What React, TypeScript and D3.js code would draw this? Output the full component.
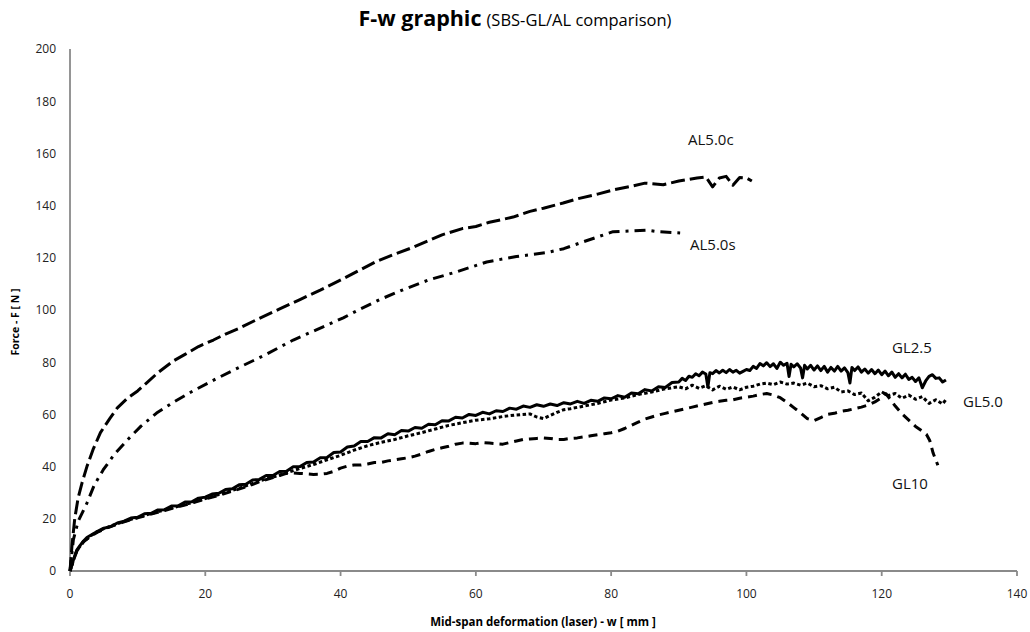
import React from "react";
import * as d3 from "d3";

// ---- data (w [mm], F [N]) ----
const AL50c: [number, number][] = [
  [0, 0], [0.3, 10], [0.7, 20], [1.2, 28], [1.8, 34], [2.5, 40], [3.4, 46.5], [4.5, 53], [5.9, 58.5],
  [7, 62.5], [8.4, 66], [10, 69], [11.3, 72], [13, 76], [15.3, 80.5], [17, 83], [19, 86], [21.2, 88.5],
  [23, 90.8], [25, 93], [28, 96.8], [31, 100.4], [34, 104], [37, 107.6], [40.4, 112], [43, 115.5],
  [45.3, 118.6], [48, 121.4], [50.7, 124], [53, 126.6], [55, 128.8], [58, 131.2], [60, 132], [62, 133.6],
  [65.5, 135.6], [68, 137.8], [70, 139], [72.9, 141], [75, 142.6], [78, 144.4], [80.3, 146], [83, 147.4],
  [85, 148.6], [87.7, 148], [90, 149.4], [92.7, 150.6], [94, 151], [95, 147.2], [96, 150.6], [97, 151.2],
  [98, 147.8], [99, 150.8], [100, 150.6], [100.8, 149.4],
];

const AL50s: [number, number][] = [
  [0, 0], [0.5, 12], [1.2, 19], [2.5, 26], [3.6, 33], [4.9, 38.7], [6.5, 44.5], [8.4, 50], [10.5, 55.5],
  [12.8, 60.5], [15.5, 65], [18.2, 69], [21.5, 73.5], [25, 78], [29, 83], [33, 88.5], [36.5, 92.5],
  [40.4, 97], [43, 100.5], [45.8, 104], [49, 107.5], [53, 111.5], [57, 114.5], [61.6, 118.4], [66, 120.5],
  [70.5, 122], [73, 123.5], [75.4, 125.7], [78, 128], [80.3, 130], [82, 130.2], [85.3, 130.6], [87, 130],
  [90.2, 129.5],
];

const GL25: [number, number][] = [
  [0, 0], [0.5, 4.2], [1, 8], [1.5, 9.8], [2, 11.5], [2.5, 12.8], [3, 13.6], [4, 15.1], [5, 16.4], [6, 17.0],
  [7, 18.4], [8, 19.1], [9, 20.3], [10, 20.6], [11, 21.9], [12, 22.1], [13, 23.4], [14, 23.5], [15, 24.9],
  [16, 25.0], [17, 26.4], [18, 26.5], [19, 27.9], [20, 28.3], [21, 29.5], [22, 29.8], [23, 31.2], [24, 31.5],
  [25, 33.0], [26, 33.2], [27, 34.9], [28, 35.1], [29, 36.6], [30, 36.6], [31, 38.1], [32, 38.2], [33, 39.9],
  [34, 40.0], [35, 41.6], [36, 41.8], [37, 43.4], [38, 43.5], [39, 45.4], [40, 45.6], [41, 47.5], [42, 47.9],
  [43, 49.6], [44, 49.6], [45, 51.1], [46, 51.0], [47, 52.6], [48, 52.2], [49, 53.8], [50, 53.6], [51, 55.0],
  [52, 54.7], [53, 56.2], [54, 56.0], [55, 57.6], [56, 57.5], [57, 58.9], [58, 58.6], [59, 60.0], [60, 59.6],
  [61, 60.8], [62, 60.2], [63, 61.4], [64, 61.1], [65, 62.4], [66, 62.0], [67, 63.2], [68, 62.7], [69, 63.7],
  [70, 63.1], [71, 64.0], [72, 63.4], [73, 64.5], [74, 64.0], [75, 65.0], [76, 64.2], [77, 65.4], [78, 65.0],
  [79, 66.3], [80, 66.0], [81, 67.2], [82, 66.6], [83, 68.2], [84, 67.9], [85, 69.5], [86, 69.0], [87, 70.6],
  [88, 70.3], [89, 72.2], [90, 72.4], [90.5, 73.8], [91, 73.0], [91.5, 74.6], [92, 74.2], [92.5, 75.6],
  [93, 74.8], [93.5, 76.2], [94, 75.5], [94.3, 70.5], [94.6, 76.0], [95, 75.6], [95.5, 76.8], [96, 75.9],
  [96.5, 76.9], [97, 76.0], [97.5, 77.2], [98, 76.2], [98.5, 76.9], [99, 75.8], [99.5, 76.5], [100, 77.2],
  [100.5, 76.8], [101, 78.4], [101.5, 77.6], [102, 79.5], [102.5, 78.6], [103, 79.8], [103.5, 78.3],
  [104, 79.4], [104.5, 77.6], [105, 80.0], [105.5, 78.8], [106, 79.6], [106.3, 74.5], [106.6, 79.2],
  [107, 78.2], [107.5, 79.4], [108, 77.8], [108.3, 74.0], [108.6, 78.8], [109, 77.4], [109.5, 78.8],
  [110, 77.0], [110.5, 78.6], [111, 76.8], [111.5, 78.4], [112, 76.2], [112.5, 78.0], [113, 76.6],
  [113.5, 78.4], [114, 76.6], [114.5, 77.8], [115, 76.0], [115.3, 72.0], [115.6, 78.0], [116, 76.8],
  [116.5, 78.2], [117, 76.2], [117.5, 77.4], [118, 75.8], [118.5, 77.2], [119, 75.6], [119.5, 77.0],
  [120, 75.2], [120.5, 76.6], [121, 74.8], [121.5, 76.2], [122, 74.2], [122.5, 75.6], [123, 74.0],
  [123.5, 75.4], [124, 73.4], [124.5, 74.2], [125, 72.6], [125.5, 74.0], [126, 70.2], [126.5, 72.8],
  [127, 74.6], [127.5, 75.2], [128, 73.8], [128.5, 74.0], [129, 72.4], [129.5, 73.2],
];

const GL50: [number, number][] = [
  [0, 0], [0.5, 4], [1, 7.8], [2, 11.3], [3, 13.4], [4, 15], [5, 16.2], [6, 17.2], [8, 19.0], [10, 20.5],
  [12, 22.0], [14, 23.4], [16, 24.8], [18, 26.2], [20, 27.8], [22, 29.3], [24, 30.9], [26, 32.6], [28, 34.5],
  [30, 36.0], [32, 37.6], [34, 39.3], [36, 40.8], [38, 42.6], [40, 44.3], [42, 46.3], [44, 48.0], [46, 49.3],
  [48, 50.4], [50, 51.8], [52, 53.0], [54, 54.4], [56, 55.8], [58, 56.8], [60, 57.8], [62, 58.3], [64, 59.2],
  [66, 59.8], [68, 60.2], [69, 59.0], [70, 58.4], [71, 59.6], [72, 60.8], [73, 61.8], [74, 62.2], [76, 63.2],
  [78, 64.2], [80, 65.5], [82, 66.3], [84, 67.6], [86, 68.6], [88, 69.8], [90, 70.6], [91, 69.8], [92, 71.2],
  [93, 70.0], [94, 71.0], [95, 69.4], [96, 70.8], [97, 69.6], [98, 70.5], [99, 69.4], [100, 70.4],
  [101, 70.8], [102, 71.6], [103, 72.0], [104, 71.4], [105, 72.4], [106, 71.6], [107, 72.0], [108, 71.2],
  [109, 72.0], [110, 70.6], [111, 71.0], [112, 69.8], [113, 70.4], [114, 68.6], [115, 69.0], [116, 67.6],
  [117, 68.2], [118, 65.2], [119, 66.6], [120, 68.6], [121, 67.2], [122, 68.0], [123, 66.2], [124, 67.4],
  [125, 65.8], [126, 66.8], [127, 64.2], [128, 65.6], [129, 64.0], [129.6, 66.0],
];

const GL10: [number, number][] = [
  [0, 0], [0.5, 4], [1, 7.6], [2, 11.2], [3, 13.2], [4, 14.8], [5, 16.0], [6, 17.0], [8, 18.8], [10, 20.4],
  [12, 21.8], [14, 23.2], [16, 24.6], [18, 26.0], [20, 27.6], [22, 29.0], [24, 30.6], [26, 32.2], [28, 34.2],
  [30, 35.8], [31, 36.6], [32, 37.4], [33, 37.6], [34, 37.4], [35, 37.2], [36, 37.0], [37, 37.1], [38, 37.4],
  [39, 38.2], [40, 39.4], [41, 40.2], [42, 40.6], [43, 40.6], [44, 41.0], [45, 41.6], [46, 41.6], [47, 42.2],
  [48, 42.6], [49, 43.0], [50, 43.4], [51, 44.0], [52, 44.8], [53, 45.8], [54, 46.6], [55, 47.2], [56, 47.8],
  [57, 48.6], [58, 49.0], [59, 49.0], [60, 48.8], [61, 49.2], [62, 49.0], [63, 48.8], [64, 48.6], [65, 49.2],
  [66, 49.8], [67, 50.4], [68, 50.6], [69, 50.8], [70, 51.0], [71, 50.8], [72, 50.4], [73, 50.4], [74, 50.8],
  [75, 51.0], [76, 51.4], [77, 51.8], [78, 52.2], [79, 52.6], [80, 53.0], [81, 53.6], [82, 54.6], [83, 55.8],
  [84, 57.0], [85, 58.2], [86, 59.0], [87, 59.8], [88, 60.4], [89, 61.0], [90, 61.6], [91, 62.2], [92, 62.8],
  [93, 63.4], [94, 64.0], [95, 64.6], [96, 65.0], [97, 65.4], [98, 65.6], [99, 66.2], [100, 66.6],
  [101, 67.0], [102, 67.6], [103, 68.0], [104, 67.4], [105, 66.4], [106, 64.6], [107, 62.6], [108, 60.6],
  [109, 58.4], [110, 57.6], [111, 58.8], [112, 60.0], [113, 60.4], [114, 61.2], [115, 61.6], [116, 62.2],
  [117, 62.8], [118, 63.6], [119, 64.8], [120, 66.4], [120.6, 68.0], [121.2, 66.0], [122, 63.2], [123, 60.2],
  [124, 57.8], [125, 55.4], [126, 53.6], [126.6, 52.4], [127.1, 50.0], [127.6, 45.2], [128, 42.5],
  [128.3, 40.5],
];

const xTicks = [0, 20, 40, 60, 80, 100, 120, 140];
const yTicks = [0, 20, 40, 60, 80, 100, 120, 140, 160, 180, 200];

const seriesNames = ["AL5.0c", "AL5.0s", "GL2.5", "GL5.0", "GL10"];

// ---- layout / style ----
const W = 1030;
const H = 632;
const plot = { left: 70, right: 1017, top: 49, bottom: 571 };
const FONT = "'Open Sans', 'Noto Sans', sans-serif";

const dashes: Record<string, string> = {
  "AL5.0c": "14,5",
  "AL5.0s": "11,6,3,6",
  "GL2.5": "none",
  "GL5.0": "3.5,2.5",
  "GL10": "9,6",
};

// label anchor positions in pixels
const labelPos: Record<string, [number, number]> = {
  "AL5.0c": [688, 145],
  "AL5.0s": [690, 250],
  "GL2.5": [892, 353],
  "GL5.0": [963, 407],
  "GL10": [892, 489],
};

export default function App() {
  const x = d3.scaleLinear().domain([0, 140]).range([plot.left, plot.right]);
  const y = d3.scaleLinear().domain([0, 200]).range([plot.bottom, plot.top]);
  const line = d3
    .line<[number, number]>()
    .x((d) => x(d[0]))
    .y((d) => y(d[1]));

  const dataMap: Record<string, [number, number][]> = {
    "AL5.0c": AL50c,
    "AL5.0s": AL50s,
    "GL2.5": GL25,
    "GL5.0": GL50,
    "GL10": GL10,
  };

  return (
    <svg
      width={W}
      height={H}
      style={{ position: "absolute", left: 0, top: 0, background: "#fff" }}
      fontFamily={FONT}
    >
      <rect x={0} y={0} width={W} height={H} fill="#fff" />
      {/* title */}
      <text x={515} y={26} textAnchor="middle" fill="#000">
        <tspan fontWeight="bold" fontSize={21.5}>F-w graphic</tspan>
        <tspan fontSize={16.5} dx={5}>(SBS-GL/AL comparison)</tspan>
      </text>

      {/* axes */}
      <line x1={plot.left} x2={plot.left} y1={plot.top} y2={plot.bottom} stroke="#8a8a8a" strokeWidth={1.8} />
      <line x1={plot.left} x2={plot.right} y1={plot.bottom} y2={plot.bottom} stroke="#8a8a8a" strokeWidth={1.8} />
      {xTicks.map((t) => (
        <g key={"xt" + t}>
          <line x1={x(t)} x2={x(t)} y1={plot.bottom} y2={plot.bottom + 5} stroke="#8a8a8a" strokeWidth={1.8} />
          <text x={x(t)} y={598} textAnchor="middle" fontSize={12} fill="#222">
            {t}
          </text>
        </g>
      ))}
      {yTicks.map((t) => (
        <text key={"yt" + t} x={56} y={y(t)} dy="0.36em" textAnchor="end" fontSize={12} fill="#222">
          {t}
        </text>
      ))}

      {/* axis titles */}
      <text
        transform={`translate(19,${322}) rotate(-90)`}
        textAnchor="middle"
        fontSize={10.5}
        fontWeight="bold"
        fill="#000"
      >
        Force - F [ N ]
      </text>
      <text x={543} y={626} textAnchor="middle" fontSize={11.5} fontWeight="bold" fill="#000">
        Mid-span deformation (laser) - w [ mm ]
      </text>

      {/* curves */}
      {seriesNames.map((name) => (
        <path
          key={name}
          d={line(dataMap[name]) || ""}
          fill="none"
          stroke="#000"
          strokeWidth={3}
          strokeDasharray={dashes[name]}
          strokeLinejoin="round"
        />
      ))}

      {/* series labels */}
      {seriesNames.map((name) => (
        <text key={"lbl" + name} x={labelPos[name][0]} y={labelPos[name][1]} fontSize={15} fill="#111">
          {name}
        </text>
      ))}
    </svg>
  );
}
